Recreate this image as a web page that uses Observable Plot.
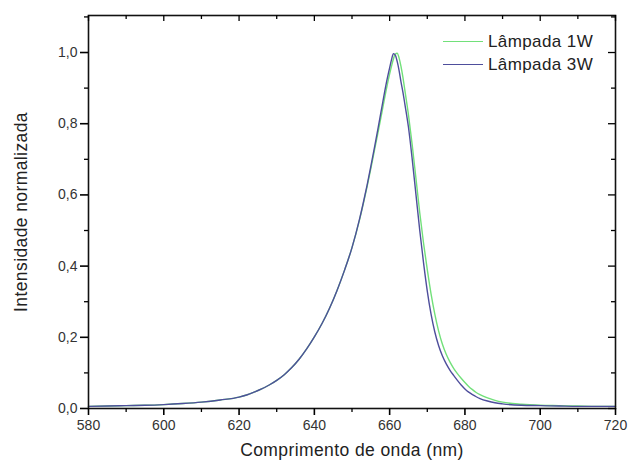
<!DOCTYPE html>
<html>
<head>
<meta charset="utf-8">
<script src="https://cdn.jsdelivr.net/npm/d3@7"></script>
<script src="https://cdn.jsdelivr.net/npm/@observablehq/plot@0.6"></script>
<style>
  html, body { margin: 0; padding: 0; background: #fff; color: #000; }
  #wrap { position: relative; width: 630px; height: 466px; font-family: "Liberation Sans", Arial, sans-serif; color: #000; }
  #legend { position: absolute; left: 443px; top: 30px; font-size: 17px; letter-spacing: 0.4px; color: #222; }
  #legend .row { display: flex; align-items: center; height: 23px; }
  #legend .sw { width: 40px; height: 0; margin-right: 5px; }
</style>
</head>
<body>
<div id="wrap"><div id="legend"></div></div>
<script>
const wavelength = [580,585,590,595,600,605,610,615,620,622,624,626,628,630,632,634,636,638,640,642,644,646,648,650,652,653,654,655,656,657,658,659,660,660.5,661,661.5,662,662.5,663,663.5,664,665,666,667,668,669,670,671,672,673,674,675,676,677,678,679,680,681,682,683,684,686,688,690,695,700,705,710,715,720];
const lamp1W = [0.006,0.007,0.008,0.009,0.011,0.014,0.018,0.024,0.032,0.038,0.046,0.055,0.066,0.079,0.095,0.115,0.139,0.168,0.201,0.238,0.281,0.331,0.388,0.452,0.53,0.575,0.623,0.674,0.727,0.78,0.835,0.89,0.94,0.962,0.982,0.996,0.998,0.985,0.962,0.932,0.897,0.825,0.74,0.645,0.55,0.465,0.39,0.322,0.265,0.218,0.181,0.153,0.131,0.113,0.098,0.085,0.073,0.062,0.053,0.045,0.039,0.03,0.023,0.018,0.012,0.009,0.008,0.007,0.006,0.006];
const lamp3W = [0.006,0.007,0.008,0.009,0.011,0.014,0.018,0.024,0.032,0.038,0.046,0.055,0.066,0.079,0.095,0.115,0.139,0.168,0.201,0.238,0.281,0.331,0.388,0.452,0.532,0.578,0.627,0.68,0.735,0.792,0.85,0.908,0.957,0.98,0.997,0.993,0.975,0.95,0.918,0.89,0.858,0.79,0.70,0.60,0.50,0.41,0.33,0.265,0.215,0.177,0.148,0.126,0.108,0.093,0.079,0.066,0.055,0.046,0.039,0.033,0.028,0.021,0.016,0.013,0.009,0.008,0.007,0.006,0.006,0.006];
const seriesNames = ["Lâmpada 1W", "Lâmpada 3W"];
const seriesColors = ["#72e07a", "#4e4e9c"];
const xMajorTicks = [580,600,620,640,660,680,700,720];
const xMinorTicks = [590,610,630,650,670,690,710];
const yMajorTicks = [0,0.2,0.4,0.6,0.8,1.0];
const yMinorTicks = [0.1,0.3,0.5,0.7,0.9,1.1];
const xDomain = [580, 720];
const yDomain = [0, 1.104];
const xTitle = "Comprimento de onda (nm)";
const yTitle = "Intensidade normalizada";

const rows = [];
wavelength.forEach((w, i) => rows.push({w, v: lamp1W[i], s: seriesNames[0]}));
wavelength.forEach((w, i) => rows.push({w, v: lamp3W[i], s: seriesNames[1]}));
const fmtY = d => d.toFixed(1).replace(".", ",");
const ink = "#000";
const [x0, x1] = xDomain;
const [y0, y1] = yDomain;

// tick marks as rules anchored on the domain edges
const xTicks = (ticks, edge, len, w) => Plot.ruleX(ticks, {x: d => d, y1: edge, y2: edge, insetBottom: -len, stroke: ink, strokeWidth: w});
const yTicks = (ticks, edge, len, w) => Plot.ruleY(ticks, {y: d => d, x1: edge, x2: edge, insetLeft: -len, stroke: ink, strokeWidth: w});

const chart = Plot.plot({
  width: 630,
  height: 466,
  marginLeft: 88,
  marginRight: 15,
  marginTop: 15,
  marginBottom: 58,
  style: {fontFamily: "Liberation Sans, Arial, sans-serif", background: "#fff", color: "#000", overflow: "visible"},
  x: {domain: xDomain},
  y: {domain: yDomain},
  color: {domain: seriesNames, range: seriesColors},
  marks: [
    Plot.line(rows, {x: "w", y: "v", z: "s", stroke: "s", strokeWidth: 1.4, curve: "monotone-x"}),
    Plot.frame({stroke: "#111", strokeWidth: 1.6}),
    xTicks(xMajorTicks, y0, 7, 1.6),
    xTicks(xMinorTicks, y0, 4, 1.3),
    xTicks(xMajorTicks, y1, 6, 1.3),
    xTicks(xMinorTicks, y1, 4, 1.3),
    yTicks(yMajorTicks, x0, 8, 1.6),
    yTicks(yMinorTicks, x0, 4, 1.3),
    yTicks(yMajorTicks, x1, 7, 1.3),
    yTicks(yMinorTicks, x1, 4, 1.3),
    Plot.axisX(xMajorTicks, {anchor: "bottom", tickSize: 0, tickPadding: 12, tickFormat: d => String(d), fontSize: 14, fill: "#333", label: null}),
    Plot.axisY(yMajorTicks, {anchor: "left", tickSize: 0, tickPadding: 11, tickFormat: fmtY, fontSize: 14, fill: "#333", label: null}),
    Plot.text([xTitle], {frameAnchor: "bottom", dy: 47, fontSize: 17.5, fill: "#222", text: d => d}),
    Plot.text([yTitle], {frameAnchor: "left", textAnchor: "middle", dx: -67, rotate: -90, fontSize: 17.5, fill: "#222", text: d => d})
  ]
});
const wrap = document.getElementById("wrap");
wrap.insertBefore(chart, wrap.firstChild);
chart.querySelectorAll("text").forEach(t => {
  if (t.textContent === xTitle || t.textContent === yTitle) t.setAttribute("letter-spacing", "0.4");
});

const legend = document.getElementById("legend");
seriesNames.forEach((n, i) => {
  const row = document.createElement("div");
  row.className = "row";
  const sw = document.createElement("div");
  sw.className = "sw";
  sw.style.borderTop = `1.4px solid ${seriesColors[i]}`;
  const t = document.createElement("span");
  t.textContent = n;
  row.appendChild(sw);
  row.appendChild(t);
  legend.appendChild(row);
});
</script>
</body>
</html>
